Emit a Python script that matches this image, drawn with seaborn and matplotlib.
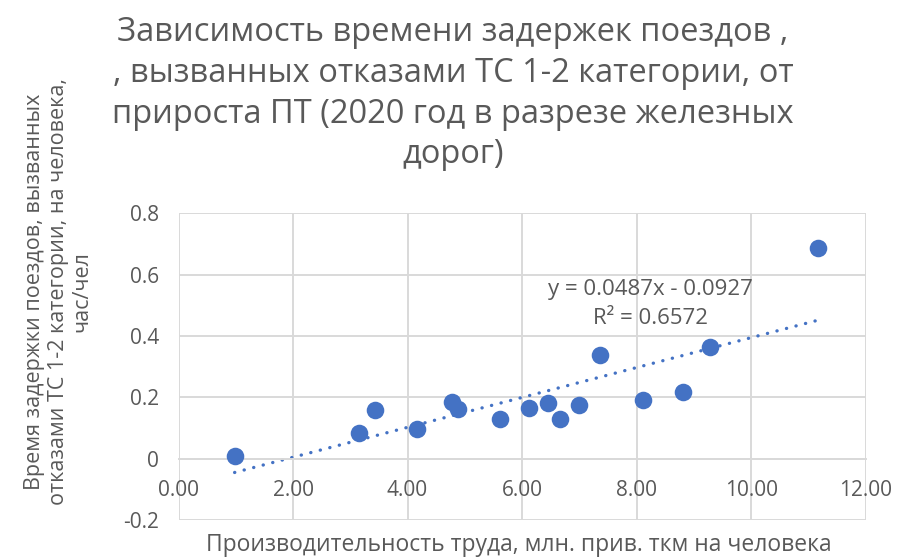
import matplotlib
matplotlib.use("Agg")
import matplotlib.pyplot as plt
import seaborn as sns
import numpy as np
import pandas as pd

# Labour productivity (mln reduced tkm per person) and train delay time (h/person)
productivity = [0.98, 3.16, 3.44, 4.17, 4.77, 4.88, 5.62, 6.13, 6.46, 6.66,
                7.00, 7.36, 8.12, 8.81, 9.29, 11.17]
delay = [0.010, 0.083, 0.157, 0.098, 0.186, 0.163, 0.130, 0.165, 0.183, 0.128,
         0.176, 0.337, 0.190, 0.216, 0.365, 0.688]

# Linear trend as stated on the chart
slope = 0.0487
intercept = -0.0927
r_squared = 0.6572

x_ticks = [0, 2, 4, 6, 8, 10, 12]
y_ticks = [-0.2, 0, 0.2, 0.4, 0.6, 0.8]
x_tick_labels = ["0.00", "2.00", "4.00", "6.00", "8.00", "10.00", "12.00"]
y_tick_labels = ["-0.2", "0", "0.2", "0.4", "0.6", "0.8"]

title = ("Зависимость времени задержек поездов ,\n"
         ", вызванных отказами ТС 1-2 категории, от\n"
         "прироста ПТ (2020 год в разрезе железных\n"
         "дорог)")
x_label = "Производительность труда, млн. прив. ткм на человека"
y_label = ("Время задержки поездов, вызванных\n"
           "отказами ТС 1-2 категории, на человека,\n"
           "час/чел")

sns.set_theme(style="white")
plt.rcParams["font.family"] = ["Open Sans", "DejaVu Sans"]

BLUE = "#4472C4"
GRID = "#D9D9D9"
TEXT = "#595959"

df = pd.DataFrame({"productivity": productivity, "delay": delay})

fig = plt.figure(figsize=(8.97, 5.58), dpi=100)
ax = fig.add_axes([0.199, 0.068, 0.766, 0.550])

ax.set_xlim(0, 12)
ax.set_ylim(-0.2, 0.8)
ax.set_xticks(x_ticks)
ax.set_yticks(y_ticks)
ax.set_xticklabels(x_tick_labels)
ax.set_yticklabels(y_tick_labels)
ax.grid(True, color=GRID, linewidth=1.4)
ax.set_axisbelow(True)

for side in ["top", "right", "left"]:
    ax.spines[side].set_visible(False)
ax.spines["bottom"].set_position(("data", 0))
ax.spines["bottom"].set_color(GRID)
ax.spines["bottom"].set_linewidth(1.4)

ax.tick_params(axis="x", length=0, pad=15, labelsize=15, labelcolor=TEXT)
ax.tick_params(axis="y", length=0, pad=14, labelsize=15, labelcolor=TEXT)

# Trendline over the data range
x_fit = np.array([min(productivity), max(productivity)])
ax.plot(x_fit, slope * x_fit + intercept, color=BLUE, linewidth=2.4,
        linestyle=(0, (0.05, 2.9)), dash_capstyle="round",
        solid_capstyle="round", zorder=2)

sns.scatterplot(data=df, x="productivity", y="delay", ax=ax, color=BLUE,
                s=160, edgecolor=BLUE, linewidth=0, zorder=3)
ax.set_xlabel("")
ax.set_ylabel("")

eq = f"y = {slope:.4f}x - {abs(intercept):.4f}\nR² = {r_squared:.4f}"
ax.text(8.25, 0.505, eq, ha="center", va="center", fontsize=16,
        color=TEXT, linespacing=1.5)

fig.text(0.505, 0.971, title, ha="center", va="top", fontsize=23.5,
         color=TEXT, linespacing=1.31)
fig.text(0.578, 0.023, x_label, ha="center", va="center", fontsize=16.5,
         color=TEXT)
fig.text(0.065, 0.477, y_label, ha="center", va="center", rotation=90,
         fontsize=15.5, color=TEXT, linespacing=1.15)

fig.savefig("out.png", dpi=100, facecolor="white")
